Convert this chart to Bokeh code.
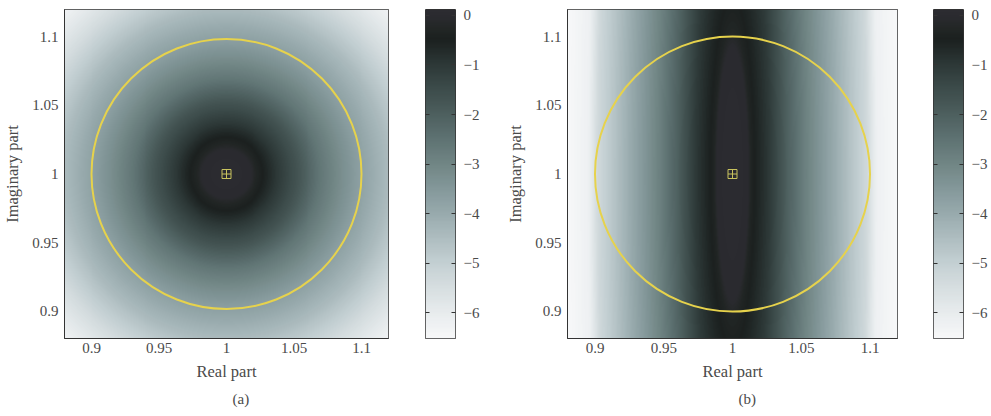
import numpy as np
from bokeh.plotting import figure
from bokeh.layouts import row
from bokeh.models import (LinearColorMapper, FixedTicker, Title, LinearAxis,
                          CustomJSTickFormatter, Range1d)
from bokeh.embed import file_html
from bokeh.resources import INLINE

# ---------------- data ----------------
axis_low, axis_high = 0.88, 1.12
tick_values = [0.9, 0.95, 1.0, 1.05, 1.1]
tick_labels = ["0.9", "0.95", "1", "1.05", "1.1"]

cbar_ticks = [0, -1, -2, -3, -4, -5, -6]
cbar_labels = ["0", "\u22121", "\u22122", "\u22123", "\u22124", "\u22125", "\u22126"]
cbar_low, cbar_high = -6.52, 0.12

circle_x = [1.0]
circle_y = [1.0]
circle_radius = 0.1
point_x = [1.0]
point_y = [1.0]

# panel (a): level vs distance from (1, 1)
radius_a = [0.000, 0.012, 0.018, 0.022, 0.027, 0.040, 0.055, 0.070, 0.085, 0.100, 0.120, 0.145, 0.170]
level_a = [0.06, 0.02, 0.00, -0.25, -0.45, -1.10, -1.80, -2.60, -3.20, -3.75, -4.40, -5.40, -6.30]

# panel (b): level vs (stretched) distance from (1, 1)
dist_b = [0.000, 0.008, 0.0115, 0.0135, 0.016, 0.027, 0.040, 0.054, 0.069, 0.0835, 0.098, 0.105, 0.120]
level_b = [0.06, 0.02, 0.00, -0.30, -0.45, -1.00, -2.00, -2.90, -3.70, -4.50, -5.30, -6.20, -6.52]
stretch_b = 0.125  # vertical weight of the elongated core in (b)

# colour scale anchors (level -> colour)
cmap_levels = [-6.52, -6.0, -5.5, -5.0, -4.5, -4.0, -3.5, -3.0, -2.5, -2.0, -1.5, -1.0, -0.45, -0.2, 0.0, 0.12]
cmap_colors = ["#f6f7f8", "#e7ebed", "#d6dee0", "#c3cfd2", "#aebdc0", "#98aaad", "#84989a", "#718685",
               "#5f7373", "#4e605f", "#3e4d4c", "#2e3a39", "#1b201f", "#232726", "#2a2a2f", "#2c2c31"]

captions = ["(a)", "(b)"]
x_title = "Real part"
y_title = "Imaginary part"

# ---------------- styling ----------------
FONT = "Liberation Serif"
TXT = "#4a4a4a"
EDGE = "#333333"


def hex_to_rgb(h):
    return [int(h[i:i + 2], 16) for i in (1, 3, 5)]


def build_palette(n=133):
    lv = np.linspace(cbar_low, cbar_high, n)
    rgb = np.array([hex_to_rgb(c) for c in cmap_colors], dtype=float)
    chans = [np.interp(lv, cmap_levels, rgb[:, k]) for k in range(3)]
    return ["#%02x%02x%02x" % (int(round(r)), int(round(g)), int(round(b)))
            for r, g, b in zip(*chans)]


palette = build_palette()

N = 330
gx = np.linspace(axis_low, axis_high, N)
GX, GY = np.meshgrid(gx, gx)
DX = GX - circle_x[0]
DY = GY - circle_y[0]
field_a = np.clip(np.interp(np.sqrt(DX ** 2 + DY ** 2), radius_a, level_a), cbar_low, cbar_high)
field_b = np.clip(np.interp(np.sqrt(DX ** 2 + (stretch_b * DY) ** 2), dist_b, level_b), cbar_low, cbar_high)

cbar_column = np.linspace(cbar_low, cbar_high, 400).reshape(-1, 1)

label_fmt = CustomJSTickFormatter(args=dict(tvals=cbar_ticks, tlabels=cbar_labels),
                                  code="const i = tvals.indexOf(Math.round(tick)); return i >= 0 ? tlabels[i] : '';")
blank_fmt = CustomJSTickFormatter(code="return '';")


def style_text_axis(ax, size="15px"):
    ax.major_label_text_font = FONT
    ax.major_label_text_font_size = size
    ax.major_label_text_color = TXT
    ax.axis_label_text_font = FONT
    ax.axis_label_text_font_size = "16.5px"
    ax.axis_label_text_font_style = "normal"
    ax.axis_label_text_color = TXT


def make_panel(field, caption, width, left, right, cap_offset):
    mapper = LinearColorMapper(palette=palette, low=cbar_low, high=cbar_high)
    p = figure(width=width, height=416, x_range=(axis_low, axis_high), y_range=(axis_low, axis_high),
               output_backend="svg", toolbar_location=None,
               min_border_left=left, min_border_right=right, min_border_top=9, min_border_bottom=78)
    p.image(image=[field], x=axis_low, y=axis_low, dw=axis_high - axis_low, dh=axis_high - axis_low,
            color_mapper=mapper)
    p.circle(x=circle_x, y=circle_y, radius=circle_radius, fill_color=None,
             line_color="#e6d24c", line_width=2.0)
    p.scatter(x=point_x, y=point_y, marker="square_cross", size=9, fill_color=None,
              line_color="#c9c35e", line_width=1)
    p.grid.visible = False
    p.outline_line_color = EDGE
    p.outline_line_width = 1
    for ax in (p.xaxis[0], p.yaxis[0]):
        ax.ticker = FixedTicker(ticks=tick_values)
        ax.major_label_overrides = dict(zip(tick_values, tick_labels))
        ax.major_tick_line_color = None
        ax.minor_tick_line_color = None
        ax.major_tick_out = 0
        ax.major_tick_in = 0
        ax.axis_line_color = EDGE
        style_text_axis(ax)
    p.xaxis.axis_label = x_title
    p.yaxis.axis_label = y_title
    p.xaxis.major_label_standoff = 4
    p.xaxis.axis_label_standoff = 6
    p.yaxis.major_label_standoff = 6
    p.yaxis.axis_label_standoff = 7

    t = Title(text=caption, align="left", text_font=FONT, text_font_size="15px",
              text_font_style="normal", text_color=TXT, offset=cap_offset, standoff=10)
    p.add_layout(t, "below")
    return p


def make_cbar(width, left, right):
    mapper = LinearColorMapper(palette=palette, low=cbar_low, high=cbar_high)
    c = figure(width=width, height=416, x_range=Range1d(0, 1), y_range=Range1d(cbar_low, cbar_high),
               output_backend="svg", toolbar_location=None, x_axis_type=None,
               y_axis_location="right",
               min_border_left=left, min_border_right=right, min_border_top=9, min_border_bottom=76)
    c.image(image=[cbar_column], x=0, y=cbar_low, dw=1, dh=cbar_high - cbar_low, color_mapper=mapper)
    c.grid.visible = False
    c.outline_line_color = EDGE
    c.outline_line_width = 1
    ax = c.yaxis[0]
    ax.ticker = FixedTicker(ticks=cbar_ticks)
    ax.formatter = label_fmt
    ax.axis_line_color = None
    ax.major_tick_line_color = EDGE
    ax.major_tick_in = 4
    ax.major_tick_out = 0
    ax.minor_tick_line_color = None
    ax.major_label_standoff = 8
    style_text_axis(ax)
    la = LinearAxis(ticker=FixedTicker(ticks=cbar_ticks), formatter=blank_fmt,
                    axis_line_color=None, major_tick_line_color=EDGE, major_tick_in=4,
                    major_tick_out=0, minor_tick_line_color=None, major_label_standoff=0)
    c.add_layout(la, "left")
    return c


pa = make_panel(field_a, captions[0], 400, 58, 12, 168)
ca = make_cbar(95, 25, 40)
pb = make_panel(field_b, captions[1], 414, 72, 12, 171)
cb = make_cbar(82, 24, 28)

layout = row(pa, ca, pb, cb, spacing=0)
open("out.html", "w").write(file_html(layout, INLINE))
